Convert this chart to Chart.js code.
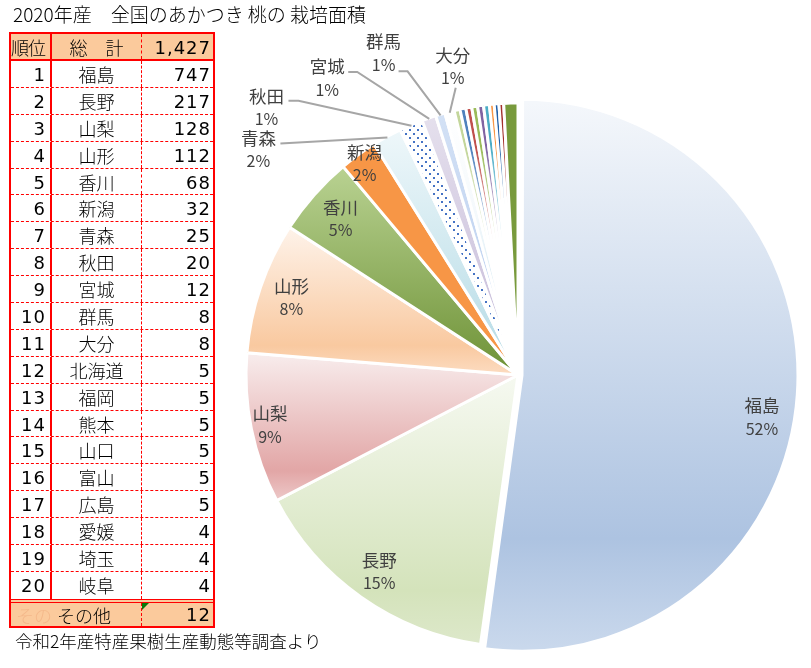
<!DOCTYPE html>
<html lang="ja">
<head>
<meta charset="utf-8">
<title>2020年産 全国のあかつき 桃の 栽培面積</title>
<script src="https://cdn.jsdelivr.net/npm/chart.js@4.4.1/dist/chart.umd.min.js"></script>
<style>
  html, body { margin: 0; padding: 0; background: #fff; }
  body { position: relative; width: 811px; height: 668px; overflow: hidden; font-family: "Noto Sans CJK JP", sans-serif; color: #000; }
  #pie { position: absolute; left: 0; top: 0; }
  .title { position: absolute; left: 13px; top: 0px; font-size: 19px; font-weight: 300; white-space: pre; }
  .note { position: absolute; left: 15px; top: 628px; font-size: 17.5px; font-weight: 300; white-space: pre; }

  #rank { position: absolute; left: 9px; top: 32px; width: 206px; border: 2px solid #f00; box-sizing: border-box; }
  .row { display: flex; height: 26.9px; box-sizing: border-box; border-bottom: 1px dashed #f00; line-height: 27px; font-size: 18px; font-weight: 300; }
  .row.head { height: 27px; background: #fbca9c; border-bottom: 2px solid #f00; }
  .row.last { border-bottom: none; }
  .row.other { height: 27px; background: #fbca9c; border-top: 4px double #f00; border-bottom: none; line-height: 24px; }
  .c1 { width: 41px; box-sizing: border-box; border-right: 2px solid #f00; text-align: right; padding-right: 4px; }
  .c2 { width: 90px; box-sizing: border-box; border-right: 1px dashed #f00; text-align: center; }
  .c3 { flex: 1; text-align: right; padding-right: 2px; position: relative; }
  .num { font-family: "DejaVu Sans", sans-serif; font-weight: normal; letter-spacing: 1px; }
  .head .c1 { text-align: left; padding: 0; letter-spacing: -1px; }
  .merge { width: 131px; box-sizing: border-box; border-right: 1px dashed #f00; position: relative; }
  .ghost { position: absolute; left: 5px; color: #f4b88a; }
  .otxt { position: absolute; left: 46px; }
  .flag { position: absolute; left: 0; top: 0; width: 0; height: 0; border-top: 7px solid #0a7a0a; border-right: 7px solid transparent; }
</style>
</head>
<body>
<canvas id="pie" width="811" height="668"></canvas>
<div class="title">2020年産　全国のあかつき 桃の 栽培面積</div>
<div id="rank"></div>
<div class="note">令和2年産特産果樹生産動態等調査より</div>

<script>
// 上位20県 (ha)
const prefectures = ["福島", "長野", "山梨", "山形", "香川", "新潟", "青森", "秋田", "宮城", "群馬",
                     "大分", "北海道", "福岡", "熊本", "山口", "富山", "広島", "愛媛", "埼玉", "岐阜"];
const areas = [747, 217, 128, 112, 68, 32, 25, 20, 12, 8, 8, 5, 5, 5, 5, 5, 5, 4, 4, 4];
const otherLabel = "その他";
const otherArea = 12;
const totalArea = 1427;

const pieLabels = prefectures.concat([otherLabel]);
const pieValues = areas.concat([otherArea]);

// ---- table ----
const rank = document.getElementById("rank");
function addRow(cls, html) {
    const r = document.createElement("div");
    r.className = "row " + cls;
    r.innerHTML = html;
    rank.appendChild(r);
}
addRow("head", `<div class="c1">順位</div><div class="c2">総　計</div><div class="c3 num">${totalArea.toLocaleString("en-US")}</div>`);
prefectures.forEach((p, i) => {
    addRow(i === prefectures.length - 1 ? "last" : "",
        `<div class="c1 num">${i + 1}</div><div class="c2">${p}</div><div class="c3 num">${areas[i]}</div>`);
});
addRow("other", `<div class="merge"><span class="ghost">その</span><span class="otxt">${otherLabel}</span></div><div class="c3 num"><span class="flag"></span>${otherArea}</div>`);

// ---- slice fills (Excel-like gradients) ----
const sliceFills = [
    [[0, "#f4f7fb"], [0.8, "#adc3e1"], [1, "#c9d8ec"]],   // 福島
    [[0, "#f6f9f1"], [0.8, "#d4e3bb"], [1, "#dde8ca"]],   // 長野
    [[0, "#f8eded"], [0.8, "#e2a6a6"], [1, "#edc9c9"]],   // 山梨
    [[0, "#fef3ea"], [0.8, "#f9c9a0"], [1, "#fcdcc1"]],   // 山形
    [[0, "#b9d292"], [1, "#6e9236"]],                     // 香川
    "#f79646",                                            // 新潟
    [[0, "#eef7fa"], [1, "#b3dae5"]],                     // 青森
    "dots",                                               // 秋田
    [[0, "#e5e0ed"], [1, "#c3b8d7"]],                     // 宮城
    [[0, "#d3e1f5"], [1, "#b5cbee"]],                     // 群馬
    [[0, "#ffffff"], [0.4, "#f4f9fc"], [0.85, "#c6e2ee"], [1, "#e6f2f7"]], // 大分
];
const lineColors = ["#c3d69b", "#4f81bd", "#c0504d", "#9bbb59", "#8064a2", "#4bacc6", "#f79646", "#1f5fa8", "#a4302c"];
lineColors.forEach(c => sliceFills.push([[0, c], [0.15, c], [0.6, "#ffffff"]]));
sliceFills.push("#789a3c");  // その他

const baseColors = sliceFills.map(f => typeof f === "string" ? (f === "dots" ? "#ffffff" : f) : f[f.length - 1][1]);

function dotPattern(ctx) {
    const c = document.createElement("canvas");
    c.width = 8; c.height = 8;
    const g = c.getContext("2d");
    g.fillStyle = "#ffffff";
    g.fillRect(0, 0, 8, 8);
    g.fillStyle = "#4472c4";
    g.fillRect(1, 1, 2, 2);
    g.fillRect(5, 5, 2, 2);
    return ctx.createPattern(c, "repeat");
}

function arcSpan(arc) {
    const { y, startAngle, endAngle, outerRadius } = arc.getProps(["y", "startAngle", "endAngle", "outerRadius"], true);
    const ys = [y, y + outerRadius * Math.sin(startAngle), y + outerRadius * Math.sin(endAngle)];
    [-Math.PI / 2, Math.PI / 2, 3 * Math.PI / 2].forEach(a => {
        if (a >= startAngle && a <= endAngle) ys.push(y + outerRadius * Math.sin(a));
    });
    return [Math.min(...ys), Math.max(...ys)];
}

const fillPlugin = {
    id: "sliceFills",
    beforeDatasetsDraw(chart) {
        const ctx = chart.ctx;
        chart.getDatasetMeta(0).data.forEach((arc, i) => {
            const f = sliceFills[i];
            if (f === "dots") { arc.options.backgroundColor = dotPattern(ctx); return; }
            if (typeof f === "string") return;
            const [top, bottom] = arcSpan(arc);
            const g = ctx.createLinearGradient(0, top, 0, bottom);
            f.forEach(([s, c]) => g.addColorStop(s, c));
            arc.options.backgroundColor = g;
        });
    }
};

// label placement: inside = radius fraction, otherwise offset from the arc edge + leader line
const labelPlacement = [
    { inside: 0.91, turn: 5.8 },  // 福島
    { inside: 0.885 },            // 長野
    { inside: 0.93 },             // 山梨
    { inside: 0.88 },             // 山形
    { inside: 0.87 },             // 香川
    { inside: 0.96 },             // 新潟
    { dx: -129, dy: 12, sx: 22, sy: -6, stub: 0 },    // 青森
    { dx: -145, dy: -18, sx: 22, sy: -7, stub: 10 },  // 秋田
    { dx: -102, dy: -41, sx: 21, sy: -6, stub: 9 },   // 宮城
    { dx: -57, dy: -62, sx: 15, sy: 18, stub: 9 },    // 群馬
    { dx: 3, dy: -46, sx: 3, sy: 21, stub: 0 },       // 大分
];

const labelPlugin = {
    id: "pieLabels",
    afterDatasetsDraw(chart) {
        const ctx = chart.ctx;
        const meta = chart.getDatasetMeta(0);
        const values = chart.data.datasets[0].data;
        const total = values.reduce((a, b) => a + b, 0);
        ctx.save();
        ctx.textAlign = "center";
        ctx.textBaseline = "middle";
        labelPlacement.forEach((p, i) => {
            const arc = meta.data[i];
            const { x, y, startAngle, endAngle, outerRadius } = arc.getProps(["x", "y", "startAngle", "endAngle", "outerRadius"], true);
            const mid = (startAngle + endAngle) / 2 + (p.turn || 0) * Math.PI / 180;
            let cx, cy;
            if (p.inside) {
                cx = x + Math.cos(mid) * outerRadius * p.inside;
                cy = y + Math.sin(mid) * outerRadius * p.inside;
            } else {
                const ex = x + Math.cos(mid) * (outerRadius - 1);
                const ey = y + Math.sin(mid) * (outerRadius - 1);
                cx = ex + p.dx;
                cy = ey + p.dy;
                const sx = cx + p.sx, sy = cy + p.sy;
                ctx.strokeStyle = "#a6a6a6";
                ctx.lineWidth = 2;
                ctx.beginPath();
                ctx.moveTo(sx, sy);
                if (p.stub) ctx.lineTo(sx + p.stub, sy);
                ctx.lineTo(ex, ey);
                ctx.stroke();
            }
            ctx.fillStyle = "#404040";
            ctx.font = '17.5px "Noto Sans CJK JP"';
            ctx.fillText(chart.data.labels[i], cx, cy - 11.5);
            ctx.font = '16px "Noto Sans CJK JP"';
            ctx.fillText(Math.round(values[i] / total * 100) + "%", cx, cy + 11.5);
        });
        ctx.restore();
    }
};

const offsets = pieValues.map((v, i) => i === 0 ? 16 : 0);

new Chart(document.getElementById("pie"), {
    type: "pie",
    data: {
        labels: pieLabels,
        datasets: [{
            data: pieValues,
            backgroundColor: baseColors,
            borderColor: "#ffffff",
            borderWidth: 3,
            offset: offsets,
            hoverOffset: 0,
            radius: 272
        }]
    },
    options: {
        responsive: false,
        animation: false,
        events: [],
        layout: { padding: { left: 238, right: 13, top: 95, bottom: 13 } },
        plugins: {
            legend: { display: false },
            tooltip: { enabled: false }
        }
    },
    plugins: [fillPlugin, labelPlugin]
});
</script>
</body>
</html>
